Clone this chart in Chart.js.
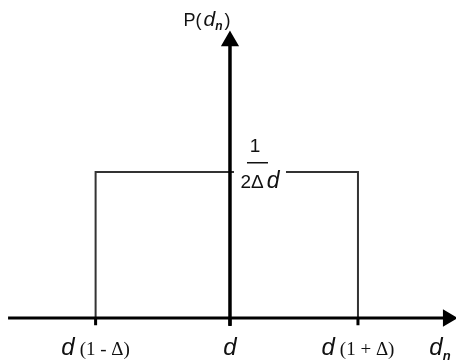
<!DOCTYPE html>
<html>
<head>
<meta charset="utf-8">
<script src="https://cdn.jsdelivr.net/npm/chart.js@4"></script>
<style>
  body { margin: 0; background: #fff; }
  canvas { display: block; }
</style>
</head>
<body>
<canvas id="pdf-chart" width="456" height="362"></canvas>
<script>
// uniform density of d_n, x measured in units of Δd around d
const tickValues = [-1.05, 0, 1]
const tickLabels = ['(1 - Δ)', '', '(1 + Δ)']
const boxX = [-1.05, -1.05, 1, 1]
const boxY = [0, 1, 1, 0]
const densityLabel = ['1', '2Δ', 'd']

// axis extents (arrow tips sit on the last point)
const xAxisX = [-1.734, 1.703]
const yAxisY = [-0.055, 1.897]

const black = '#000'

const axisX = {
	data: xAxisX.map(x => ({ x: x, y: 0 })),
	borderColor: black,
	borderWidth: 3,
	backgroundColor: black,
	pointStyle: 'triangle',
	pointRadius: [0, 7],
	pointRotation: 90,
	pointBackgroundColor: black,
	pointBorderColor: black,
	showLine: true
}

const axisY = {
	data: yAxisY.map(y => ({ x: 0, y: y })),
	borderColor: black,
	borderWidth: 3.5,
	backgroundColor: black,
	pointStyle: 'triangle',
	pointRadius: [0, 7],
	pointBackgroundColor: black,
	pointBorderColor: black,
	showLine: true
}

const box = {
	data: boxX.map((x, i) => ({ x: x, y: boxY[i] })),
	borderColor: '#333',
	borderWidth: 2,
	pointRadius: 0,
	showLine: true
}

const ticks = tickValues.map(x => ({
	data: [{ x: x, y: 0 }, { x: x, y: -0.05 }],
	borderColor: black,
	borderWidth: 3,
	pointRadius: 0,
	showLine: true
}))

// draw a row of text pieces with mixed fonts, centred on cx
function textRun(ctx, parts, cx, base) {
	let width = 0
	parts.forEach(p => {
		ctx.font = p.font
		p.w = ctx.measureText(p.text).width + (p.gap || 0)
		width += p.w
	})
	let x = cx - width / 2
	parts.forEach(p => {
		ctx.font = p.font
		ctx.fillText(p.text, x + (p.gap || 0), base + (p.dy || 0))
		x += p.w
	})
}

const labels = {
	id: 'labels',
	afterDatasetsDraw(chart) {
		const ctx = chart.ctx
		const xs = chart.scales.x
		const ys = chart.scales.y
		const x0 = xs.getPixelForValue(0)
		const y0 = ys.getPixelForValue(0)
		const yTop = ys.getPixelForValue(1)
		const sans = '"Liberation Sans", Arial, sans-serif'
		const serif = '"Liberation Serif", "Times New Roman", serif'

		ctx.save()
		ctx.fillStyle = '#111'
		ctx.textBaseline = 'alphabetic'
		ctx.textAlign = 'left'

		// tick labels under the axis
		tickValues.forEach((v, i) => {
			const parts = [{ text: 'd', font: 'italic 24px ' + sans }]
			if (tickLabels[i]) parts.push({ text: tickLabels[i], font: '19px ' + serif, gap: 5 })
			textRun(ctx, parts, xs.getPixelForValue(v), y0 + 37)
		})

		// x axis name
		textRun(ctx, [
			{ text: 'd', font: 'italic 24px ' + sans },
			{ text: 'n', font: 'bold italic 13px ' + sans, dy: 5 }
		], xs.right - 16, y0 + 37)

		// y axis name
		textRun(ctx, [
			{ text: 'P(', font: '18px ' + sans },
			{ text: 'd', font: 'italic 21px ' + sans, gap: 2 },
			{ text: 'n', font: 'bold italic 12px ' + sans, dy: 4 },
			{ text: ')', font: '18px ' + sans, gap: 2 }
		], x0 - 23, 26)

		// density value 1/(2Δd), the box top is broken behind it
		const fx = x0 + 32
		ctx.fillStyle = '#fff'
		ctx.fillRect(x0 + 4, yTop - 5, 52, 24)
		ctx.fillStyle = '#111'
		textRun(ctx, [{ text: densityLabel[0], font: '19px ' + sans }], fx - 7, yTop - 20)
		ctx.fillRect(fx - 15, yTop - 10, 21, 1.5)
		textRun(ctx, [
			{ text: densityLabel[1], font: '19px ' + sans },
			{ text: densityLabel[2], font: 'italic 23px ' + sans, gap: 3 }
		], fx - 2, yTop + 16)
		ctx.restore()
	}
}

new Chart(document.getElementById('pdf-chart'), {
	type: 'scatter',
	data: { datasets: [axisX, axisY, box, ...ticks] },
	options: {
		responsive: false,
		animation: false,
		devicePixelRatio: 1,
		layout: { padding: 0, autoPadding: false },
		plugins: {
			legend: { display: false },
			tooltip: { enabled: false }
		},
		scales: {
			x: { type: 'linear', display: false, min: -1.797, max: 1.766 },
			y: { type: 'linear', display: false, min: -0.3014, max: 2.178 }
		}
	},
	plugins: [labels]
})
</script>
</body>
</html>
